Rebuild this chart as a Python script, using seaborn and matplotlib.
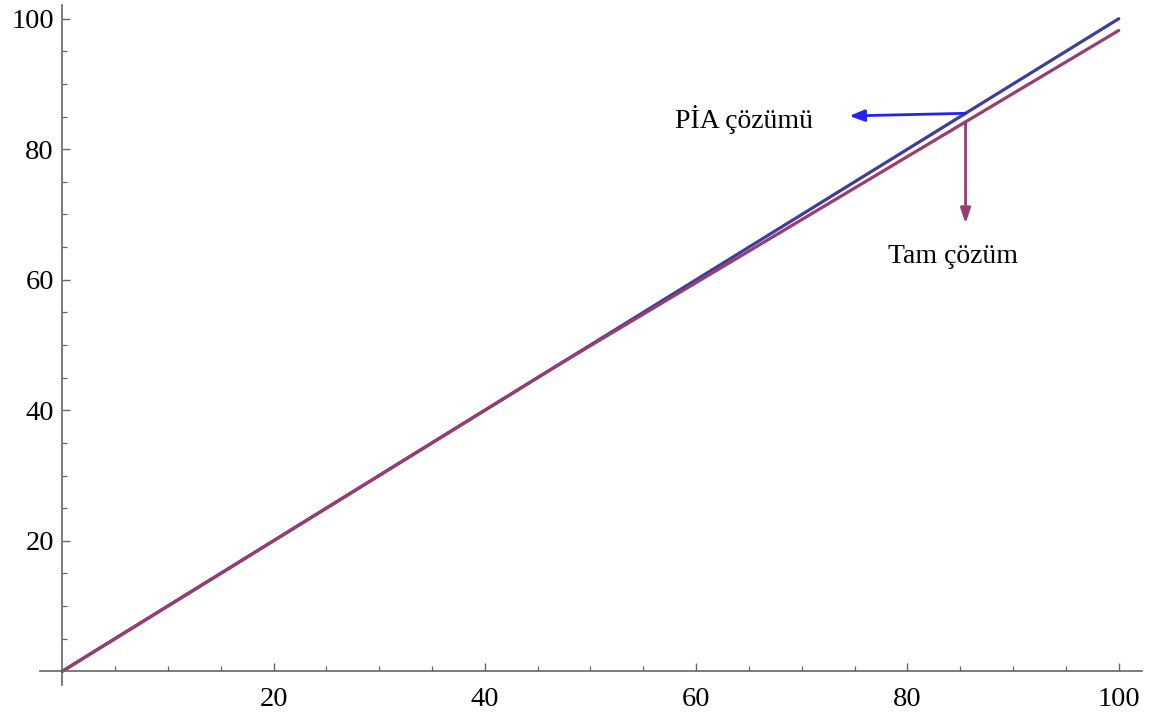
import matplotlib
matplotlib.use("Agg")
import matplotlib.pyplot as plt
import seaborn as sns
import pandas as pd
from matplotlib.ticker import FixedLocator

# Solution values
x_vals = [0, 47, 100]
pia_vals = [0, 47, 100]
tam_vals = [0, 47, 98.2]
major_ticks = [20, 40, 60, 80, 100]
minor_ticks = [5, 10, 15, 25, 30, 35, 45, 50, 55, 65, 70, 75, 85, 90, 95]

sns.set_style("white")
plt.rcParams["font.family"] = ["Liberation Serif", "DejaVu Serif"]

df = pd.DataFrame({
    "x": x_vals * 2,
    "y": pia_vals + tam_vals,
    "seri": ["PİA"] * len(x_vals) + ["Tam"] * len(x_vals),
})

W, H = 1161, 717
fig = plt.figure(figsize=(W / 100, H / 100), dpi=100)
ax = fig.add_axes([40 / W, (H - 685) / H, (1142 - 40) / W, (685 - 5) / H])

blue = "#3F3D99"
purple = "#993D71"
sns.lineplot(data=df, x="x", y="y", hue="seri", palette={"PİA": blue, "Tam": purple},
             linewidth=2.3, ax=ax, legend=False, estimator=None, sort=False)

ax.set_xlim(-2.1, 102.2)
ax.set_ylim(-2.1, 102.1)
ax.set_xlabel("")
ax.set_ylabel("")

for side in ["top", "right"]:
    ax.spines[side].set_visible(False)
for side in ["left", "bottom"]:
    ax.spines[side].set_position(("data", 0))
    ax.spines[side].set_color("#666666")
    ax.spines[side].set_linewidth(1.2)
# extend axis lines slightly past the origin
ax.spines["left"].set_bounds(-2.1, 102.1)
ax.spines["bottom"].set_bounds(-2.1, 102.2)

ax.xaxis.set_major_locator(FixedLocator(major_ticks))
ax.yaxis.set_major_locator(FixedLocator(major_ticks))
ax.xaxis.set_minor_locator(FixedLocator(minor_ticks))
ax.yaxis.set_minor_locator(FixedLocator(minor_ticks))
ax.tick_params(which="both", bottom=True, left=True, top=False, right=False)
ax.tick_params(which="major", direction="in", length=6, width=1.0, color="#666666",
               labelsize=20.5, labelcolor="black")
ax.tick_params(which="minor", direction="in", length=3.5, width=0.9, color="#666666")
ax.tick_params(axis="x", which="major", pad=11)
ax.tick_params(axis="y", which="major", pad=6)

# Annotations with arrows
ax.annotate("", xy=(74.5, 85.1), xytext=(85.5, 85.5),
            arrowprops=dict(arrowstyle="-|>,head_length=0.9,head_width=0.35",
                            color="#2424EE", lw=2.0, shrinkA=0, shrinkB=0))
ax.text(64.5, 84.6, "PİA çözümü", fontsize=20, ha="center", va="center", color="black")

ax.annotate("", xy=(85.5, 68.6), xytext=(85.5, 84.2),
            arrowprops=dict(arrowstyle="-|>,head_length=0.9,head_width=0.3",
                            color=purple, lw=2.0, shrinkA=0, shrinkB=0))
ax.text(84.3, 63.6, "Tam çözüm", fontsize=20, ha="center", va="center", color="black")

fig.savefig("out.png", dpi=100)
